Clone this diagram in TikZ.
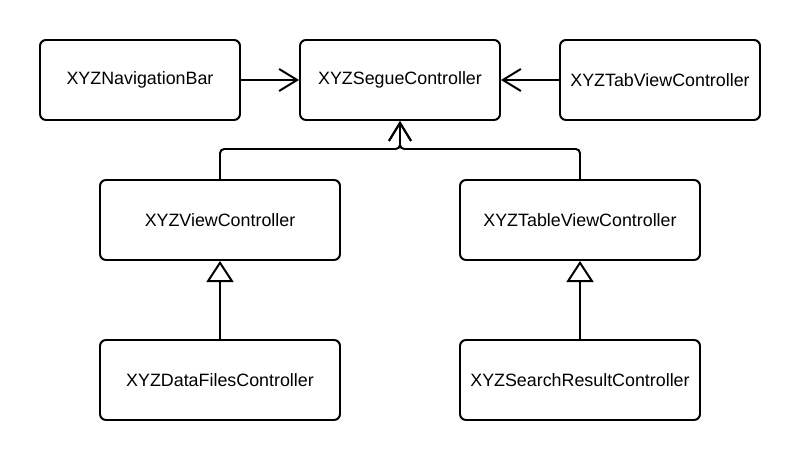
\documentclass[tikz,border=0pt]{standalone}
\usepackage{fontspec}
\setmainfont{Liberation Sans}
\usetikzlibrary{arrows.meta}

\begin{document}
\begin{tikzpicture}[
        cls/.style={draw, line width=1.4pt, rounded corners=0.15cm, minimum height=2cm, font=\fontsize{12.7}{15}\selectfont},
        wide/.style={cls, minimum width=6cm},
        narrow/.style={cls, minimum width=5cm},
        uses/.style={line width=1.4pt, -{Straight Barb[length=4.5mm, width=5.5mm, line width=1.4pt]}},
        extends/.style={line width=1.4pt, -{Triangle[open, length=5.3mm, width=6.8mm, line width=1.4pt, fill=white]}}
    ]
        \useasboundingbox (0,0) rectangle (20,11.5);
        % top row
            \node[narrow] (navbar) at (3.5,9.5) {XYZNavigationBar};
            \node[narrow] (segue) at (10,9.5) {XYZSegueController};
            \node[narrow] (tabview) at (16.5,9.5) {XYZTabViewController};
        % middle row
            \node[wide] (viewctrl) at (5.5,6) {XYZViewController};
            \node[wide] (tableview) at (14.5,6) {XYZTableViewController};
        % bottom row
            \node[wide] (datafiles) at (5.5,2) {XYZDataFilesController};
            \node[wide] (searchresult) at (14.5,2) {XYZSearchResultController};
        % lines
            \draw [uses] (navbar) -- (segue);
            \draw [uses] (tabview) -- (segue);
            \draw [uses, rounded corners=3pt] (viewctrl.north) -- ++(0,0.75) -| (segue.south);
            \draw [uses, rounded corners=3pt] (tableview.north) -- ++(0,0.75) -| (segue.south);
            \draw [extends] (datafiles) -- (viewctrl);
            \draw [extends] (searchresult) -- (tableview);
    \end{tikzpicture}
\end{document}
